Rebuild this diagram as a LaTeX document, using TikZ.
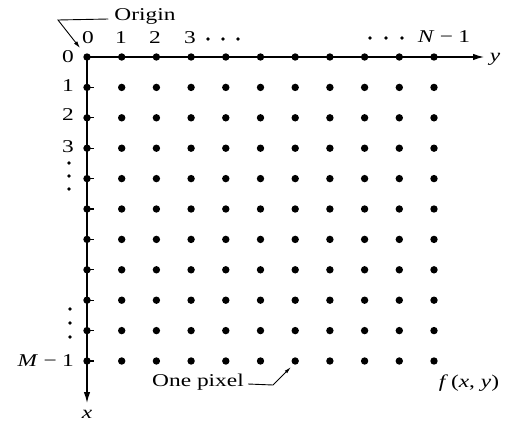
\documentclass[tikz,border=0pt]{standalone}
\usepackage{fontspec}
\setmainfont{Liberation Serif}[FakeStretch=1.3]
\usetikzlibrary{arrows.meta}
\begin{document}
\begin{tikzpicture}[x=1pt,y=-1pt,
  every node/.style={font=\fontsize{18}{21}\selectfont, inner sep=0pt},
  dot/.style={circle,fill=black,minimum size=7.4pt,inner sep=0pt},
  sdot/.style={circle,fill=black,minimum size=3.6pt,inner sep=0pt},
  axis/.style={line width=1.2pt,-{Latex[length=11pt,width=6.5pt]}},
  leader/.style={line width=0.9pt}]
\useasboundingbox (0,0) rectangle (507,421);
% dots
\foreach \i in {0,...,10}{
  \foreach \j in {0,...,10}{
    \node[dot] (d\i-\j) at ({87+\j*34.7},{57+\i*30.4}) {};
  }
}
% axes
\coordinate (yend) at (484,57);
\coordinate (xend) at (87,403);
\draw[axis] (d0-0.center) -- (yend);
\draw[axis] (d0-0.center) -- (xend);
\node (ylab) at (495,59) {\textit{y}};
\node (xlab) at (87,414) {\textit{x}};
% ticks on the left column
\foreach \i in {1,...,10}{
  \draw[line width=1.1pt] (d\i-0.center) -- ++(7,0);
}
% row labels
\node (r0) at (68,57) {0};
\node (r1) at (68,86) {1};
\node (r2) at (68,115) {2};
\node (r3) at (68,147) {3};
\node[sdot] (rv1) at (69,163) {};
\node[sdot] (rv2) at (69,176) {};
\node[sdot] (rv3) at (69,189) {};
\node[sdot] (rv4) at (70,309) {};
\node[sdot] (rv5) at (70,323) {};
\node[sdot] (rv6) at (70,337) {};
\node[anchor=east] (rM) at (74,361) {\textit{M}\hspace{0.3em}−\hspace{0.3em}1};
% column labels
\node (c0) at (88,38) {0};
\node (c1) at (121,38) {1};
\node (c2) at (155,38) {2};
\node (c3) at (190,38) {3};
\node[sdot] (cd1) at (208,39) {};
\node[sdot] (cd2) at (223,39) {};
\node[sdot] (cd3) at (238,39) {};
\node[sdot] (cd4) at (370,38) {};
\node[sdot] (cd5) at (386,38) {};
\node[sdot] (cd6) at (402,38) {};
\node (cN) at (444,37) {\textit{N}\hspace{0.3em}−\hspace{0.3em}1};
% origin
\node (origin) at (145,16) {Origin};
\coordinate (ob) at (58,20);
\coordinate (ot) at (80,48);
\draw[leader,-{Latex[length=7pt,width=4pt]}] (origin.west) ++(-6,3) -- (ob) -- (ot);
% one pixel
\node (onepix) at (198,382) {One pixel};
\coordinate (pb) at (273,385);
\coordinate (pt) at (291,367);
\draw[leader,-{Latex[length=7pt,width=3.5pt]}] (onepix.east) ++(4,2) -- (pb) -- (pt);
% f(x,y)
\node (fxy) at (469,383) {\textit{f}\,(\textit{x}, \textit{y})};
\end{tikzpicture}
\end{document}
